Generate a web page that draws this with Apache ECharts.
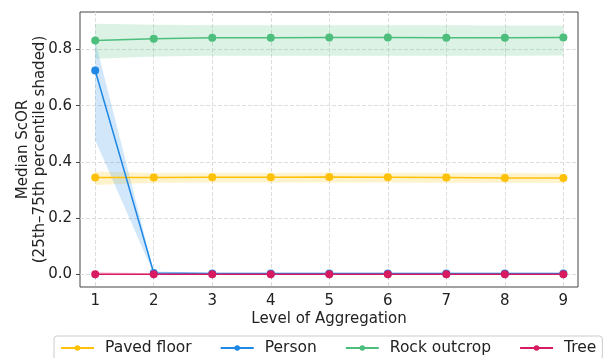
<!DOCTYPE html>
<html lang="en">
<head>
    <meta charset="UTF-8">
    <title>Median ScOR</title>
    <script src="https://cdn.jsdelivr.net/npm/echarts@6/dist/echarts.min.js"></script>
</head>
<body style="margin:0">
<div id="chart" style="width:604px;height:358px"></div>
<script>
    var levels = [1, 2, 3, 4, 5, 6, 7, 8, 9]
    var yTicks = [0, 0.2, 0.4, 0.6, 0.8]

    var pavedMed = [0.344, 0.344, 0.345, 0.345, 0.346, 0.345, 0.344, 0.343, 0.343]
    var pavedLo = [0.318, 0.326, 0.327, 0.327, 0.327, 0.327, 0.326, 0.326, 0.325]
    var pavedHi = [0.366, 0.360, 0.360, 0.360, 0.361, 0.360, 0.360, 0.360, 0.359]

    var personMed = [0.725, 0.005, 0.003, 0.003, 0.003, 0.003, 0.003, 0.003, 0.003]
    var personLo = [0.478, 0.001, 0.001, 0.001, 0.001, 0.001, 0.001, 0.001, 0.001]
    var personHi = [0.830, 0.010, 0.006, 0.006, 0.006, 0.006, 0.006, 0.006, 0.006]

    var rockMed = [0.832, 0.838, 0.841, 0.841, 0.842, 0.842, 0.841, 0.841, 0.842]
    var rockLo = [0.767, 0.775, 0.777, 0.777, 0.777, 0.777, 0.777, 0.777, 0.778]
    var rockHi = [0.891, 0.888, 0.886, 0.886, 0.886, 0.886, 0.886, 0.885, 0.885]

    var treeMed = [0, 0, 0, 0, 0, 0, 0, 0, 0]
    var treeLo = [0, 0, 0, 0, 0, 0, 0, 0, 0]
    var treeHi = [0.008, 0.004, 0.001, 0.001, 0.001, 0.001, 0.001, 0.001, 0.001]

    var names = ['Paved floor', 'Person', 'Rock outcrop', 'Tree']
    var colors = ['#FFC107', '#1E88E5', '#4DBE7C', '#D81B60']

    var sets = [
        [pavedMed, pavedLo, pavedHi],
        [personMed, personLo, personHi],
        [rockMed, rockLo, rockHi],
        [treeMed, treeLo, treeHi]
    ]

    function pairs(arr) {
        var out = []
        for (var i = 0; i < levels.length; i++) {
            out.push([levels[i], arr[i]])
        }
        return out
    }

    // band polygon: upper edge left->right, then lower edge right->left
    function bandSeries(lo, hi, color) {
        var rows = []
        for (var i = 0; i < levels.length; i++) {
            rows.push([levels[i], lo[i], hi[i]])
        }
        return {
            type: 'custom', silent: true, z: 1,
            data: rows,
            encode: {x: 0, y: [1, 2]},
            renderItem: function (params, api) {
                if (params.dataIndex !== 0) return
                var pts = []
                for (var i = 0; i < rows.length; i++) pts.push(api.coord([rows[i][0], rows[i][2]]))
                for (var i = rows.length - 1; i >= 0; i--) pts.push(api.coord([rows[i][0], rows[i][1]]))
                return {
                    type: 'polygon',
                    shape: {points: pts},
                    style: {fill: color, opacity: 0.2}
                }
            }
        }
    }

    var series = []
    for (var k = 0; k < sets.length; k++) {
        series.push(bandSeries(sets[k][1], sets[k][2], colors[k]))
    }
    for (var k = 0; k < sets.length; k++) {
        series.push({
            name: names[k], type: 'line', data: pairs(sets[k][0]),
            symbol: 'circle', symbolSize: 8, z: 3,
            itemStyle: {color: colors[k]},
            lineStyle: {color: colors[k], width: 1.5}
        })
    }

    var chart = echarts.init(document.getElementById('chart'))
    chart.setOption({
        animation: false,
        textStyle: {fontFamily: 'DejaVu Sans'},
        grid: {
            left: 80, right: 26, top: 12, bottom: 71, outerBoundsMode: 'none',
            show: true, borderColor: '#444', borderWidth: 1
        },
        legend: {
            data: names, left: 54, top: 336, itemWidth: 33, itemHeight: 7, itemGap: 28,
            padding: [4, 6], borderColor: '#ccc', borderWidth: 1, borderRadius: 3,
            textStyle: {fontSize: 15.5, color: '#222', padding: [0, 0, 0, 6]}
        },
        xAxis: {
            type: 'value', min: 0.74, max: 9.25,
            name: 'Level of Aggregation', nameLocation: 'middle', nameGap: 25, nameMoveOverlap: false,
            nameTextStyle: {fontSize: 15, color: '#222'},
            axisLine: {show: false},
            axisTick: {show: true, length: 4, lineStyle: {color: '#444'}, customValues: levels},
            axisLabel: {fontSize: 15, color: '#222', margin: 7, customValues: levels},
            splitLine: {show: true, lineStyle: {color: '#ddd', type: 'dashed'}}
        },
        yAxis: {
            type: 'value', min: -0.045, max: 0.933,
            name: 'Median ScOR\n(25th\u201375th percentile shaded)', nameLocation: 'middle', nameGap: 31,
            nameMoveOverlap: false,
            nameTextStyle: {fontSize: 15, color: '#222', lineHeight: 17},
            axisLine: {show: false},
            axisTick: {show: true, length: 4, lineStyle: {color: '#444'}, customValues: yTicks},
            axisLabel: {
                fontSize: 15, color: '#222', margin: 8, customValues: yTicks,
                formatter: function (v) { return v.toFixed(1) }
            },
            splitLine: {show: true, lineStyle: {color: '#ddd', type: 'dashed'}}
        },
        series: series
    })
</script>
</body>
</html>
